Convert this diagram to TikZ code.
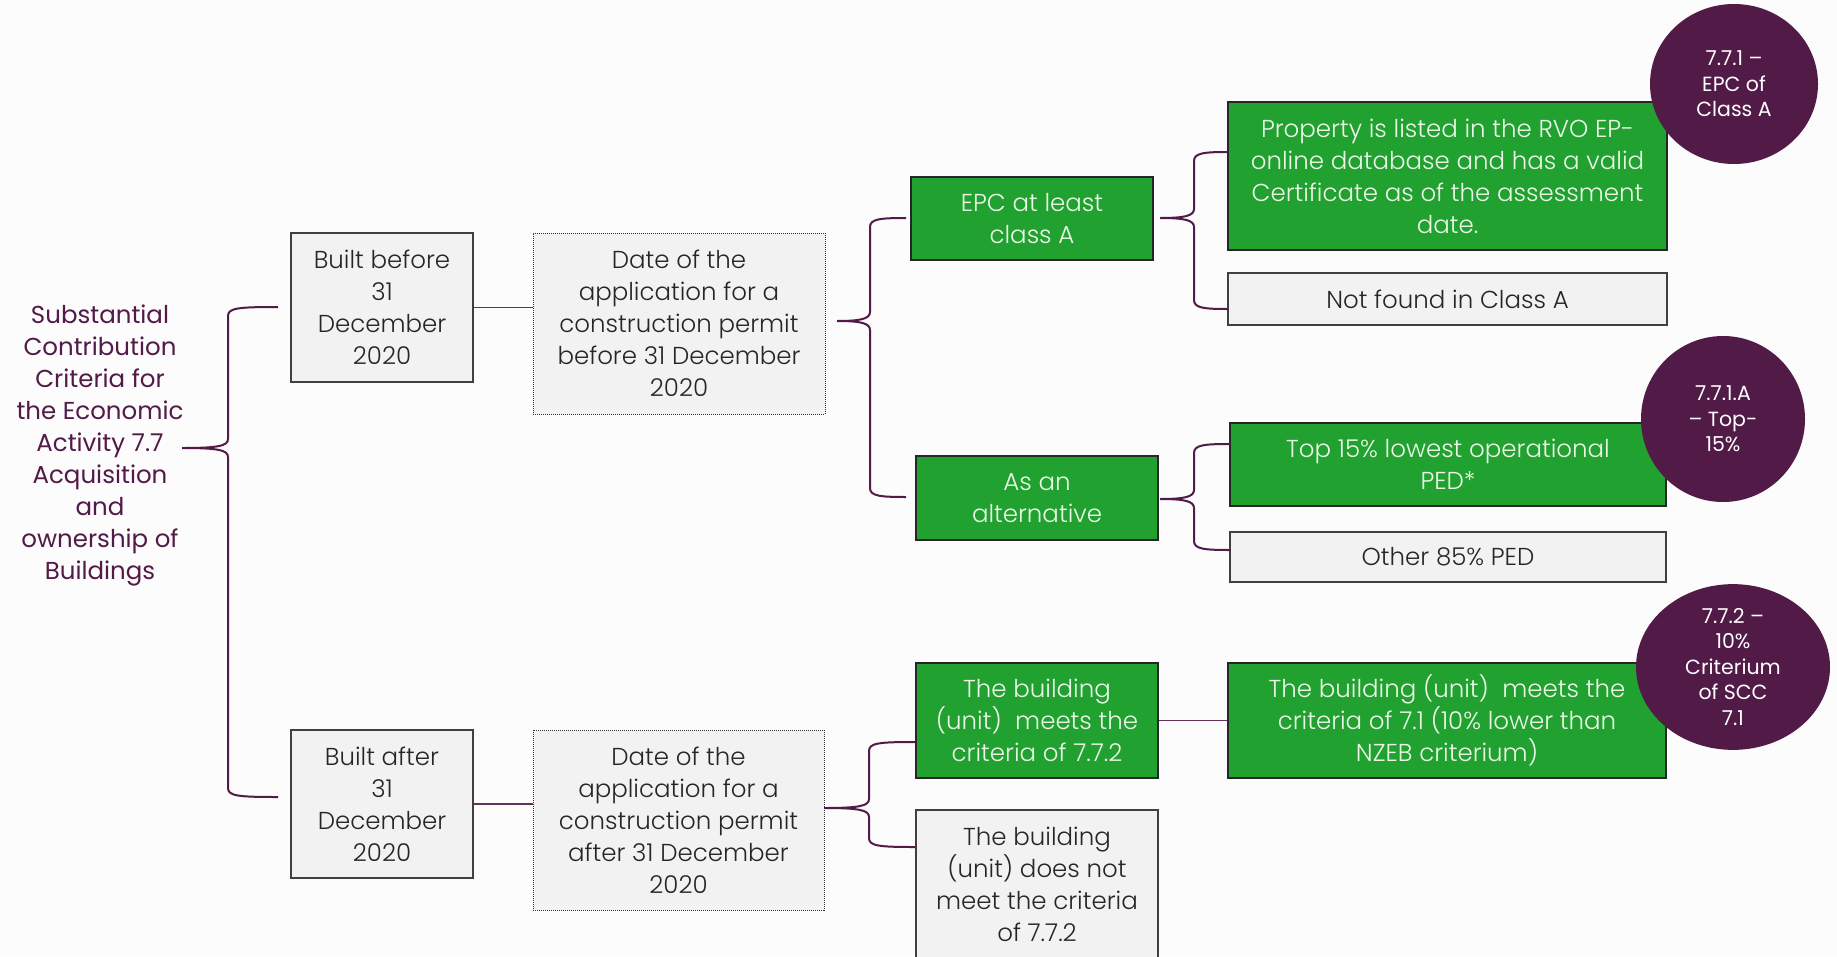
\documentclass[tikz,border=0pt]{standalone}
\usepackage{fontspec}
\setmainfont{Poppins}[UprightFont=* Light]
\newfontfamily\regfont{Poppins}
\usetikzlibrary{calc,shapes.geometric}
\definecolor{grn}{RGB}{33,161,48}
\definecolor{plum}{RGB}{82,26,71}
\definecolor{bgc}{RGB}{252,252,252}
\definecolor{gfill}{RGB}{242,242,242}
\definecolor{edge}{RGB}{64,64,64}
\definecolor{gtext}{RGB}{236,248,232}
\tikzset{
 every node/.style={font=\fontsize{24.5}{32}\selectfont, align=center, inner sep=0pt},
 graybox/.style={draw=edge, line width=1.3pt, fill=gfill, text=black!85},
 dotbox/.style={draw=black!80, densely dotted, line width=1pt, fill=gfill, text=black!85},
 greenbox/.style={draw=black!85, line width=1.5pt, fill=grn, text=gtext},
 badge/.style={ellipse, fill=plum, text=white, font=\regfont\fontsize{20.5}{25.5}\selectfont},
 br/.style={draw=plum, line width=2pt},
 ln/.style={draw=plum!90, line width=1.4pt},
}
\newcommand{\bracelink}[4]{%
 \draw[br] let \p1=(#1), \p2=(#2), \p3=(#3), \p4=(#4,0) in
 (\p2) .. controls (\x4+10pt,\y2) and (\x4,\y2-1pt) .. (\x4,\y2-9pt)
 -- (\x4,\y1+9pt) .. controls (\x4,\y1+2pt) and (\x4-10pt,\y1) .. (\p1)
 .. controls (\x4-10pt,\y1) and (\x4,\y1-2pt) .. (\x4,\y1-9pt)
 -- (\x4,\y3+9pt) .. controls (\x4,\y3+1pt) and (\x4+10pt,\y3) .. (\p3);}
\begin{document}
\begin{tikzpicture}[x=1pt,y=-1pt]
\fill[bgc] (0,0) rectangle (1837,956);
\useasboundingbox (0,0) rectangle (1837,956);
% main text
\node[text=plum, font=\regfont\fontsize{24.5}{32}\selectfont] (main) at (100,445)
 {Substantial\\Contribution\\Criteria for\\the Economic\\Activity 7.7\\Acquisition\\and\\ownership of\\Buildings};
% boxes
\node[graybox, minimum width=182pt, minimum height=149pt] (bb) at (382,307.5) {Built before\\31\\December\\2020};
\node[graybox, minimum width=182pt, minimum height=148pt] (ba) at (382,804) {Built after\\31\\December\\2020};
\node[dotbox, minimum width=292pt, minimum height=181pt] (d1) at (679,323.5) {Date of the\\application for a\\construction permit\\before 31 December\\2020};
\node[dotbox, minimum width=291pt, minimum height=180pt] (d2) at (678.5,820) {Date of the\\application for a\\construction permit\\after 31 December\\2020};
\node[greenbox, minimum width=242pt, minimum height=83pt] (epc) at (1032,218.5) {EPC at least\\class A};
\node[greenbox, minimum width=242pt, minimum height=84pt] (alt) at (1037,498) {As an\\alternative};
\node[greenbox, minimum width=439pt, minimum height=148pt] (prop) at (1447.5,176) {Property is listed in the RVO EP-\\online database and has a valid\\Certificate as of the assessment\\date.};
\node[graybox, minimum width=439pt, minimum height=52pt] (nf) at (1447.5,299) {Not found in Class A};
\node[greenbox, minimum width=436pt, minimum height=83pt] (top) at (1448,464.5) {Top 15\% lowest operational\\PED*};
\node[graybox, minimum width=436pt, minimum height=50pt] (oth) at (1448,557) {Other 85\% PED};
\node[greenbox, minimum width=242pt, minimum height=115pt] (meets) at (1037,720.5) {The building\\(unit)\ \ meets the\\criteria of 7.7.2};
\node[graybox, minimum width=242pt, minimum height=148pt] (nmeet) at (1037,884) {The building\\(unit) does not\\meet the criteria\\of 7.7.2};
\node[greenbox, minimum width=438pt, minimum height=115pt] (nzeb) at (1447,720.5) {The building (unit)\ \ meets the\\criteria of 7.1 (10\% lower than\\NZEB criterium)};
% badges
\node[badge, minimum width=168pt, minimum height=160pt] (c1) at (1734,84) {7.7.1 –\\EPC of\\Class A};
\node[badge, minimum width=164pt, minimum height=166pt] (c2) at (1723,419) {7.7.1.A\\– Top-\\15\%};
\node[badge, minimum width=194pt, minimum height=164pt] (c3) at (1733,667) {7.7.2 –\\10\%\\Criterium\\of SCC\\7.1};
% straight links
\draw[ln] (bb.east) -- (d1.west |- bb.east);
\draw[ln] (ba.east) -- (d2.west |- ba.east);
\draw[ln] (meets.east) -- (nzeb.west |- meets.east);
% brace coordinates
\coordinate (m-tip) at (182,448); \coordinate (m-a) at (278,307); \coordinate (m-b) at (278,797);
\coordinate (b2-tip) at (837,321); \coordinate (b2-a) at (906,218); \coordinate (b2-b) at (906,497);
\coordinate (b3-tip) at (1160,218); \coordinate (b3-a) at (1228,152); \coordinate (b3-b) at (1228,309);
\coordinate (b4-tip) at (1160,499); \coordinate (b4-a) at (1230,444); \coordinate (b4-b) at (1230,550);
\coordinate (b5-tip) at (824,808); \coordinate (b5-a) at (915,742); \coordinate (b5-b) at (915,847);
\bracelink{m-tip}{m-a}{m-b}{228}
\bracelink{b2-tip}{b2-a}{b2-b}{870}
\bracelink{b3-tip}{b3-a}{b3-b}{1194}
\bracelink{b4-tip}{b4-a}{b4-b}{1194}
\bracelink{b5-tip}{b5-a}{b5-b}{869}
\end{tikzpicture}
\end{document}
